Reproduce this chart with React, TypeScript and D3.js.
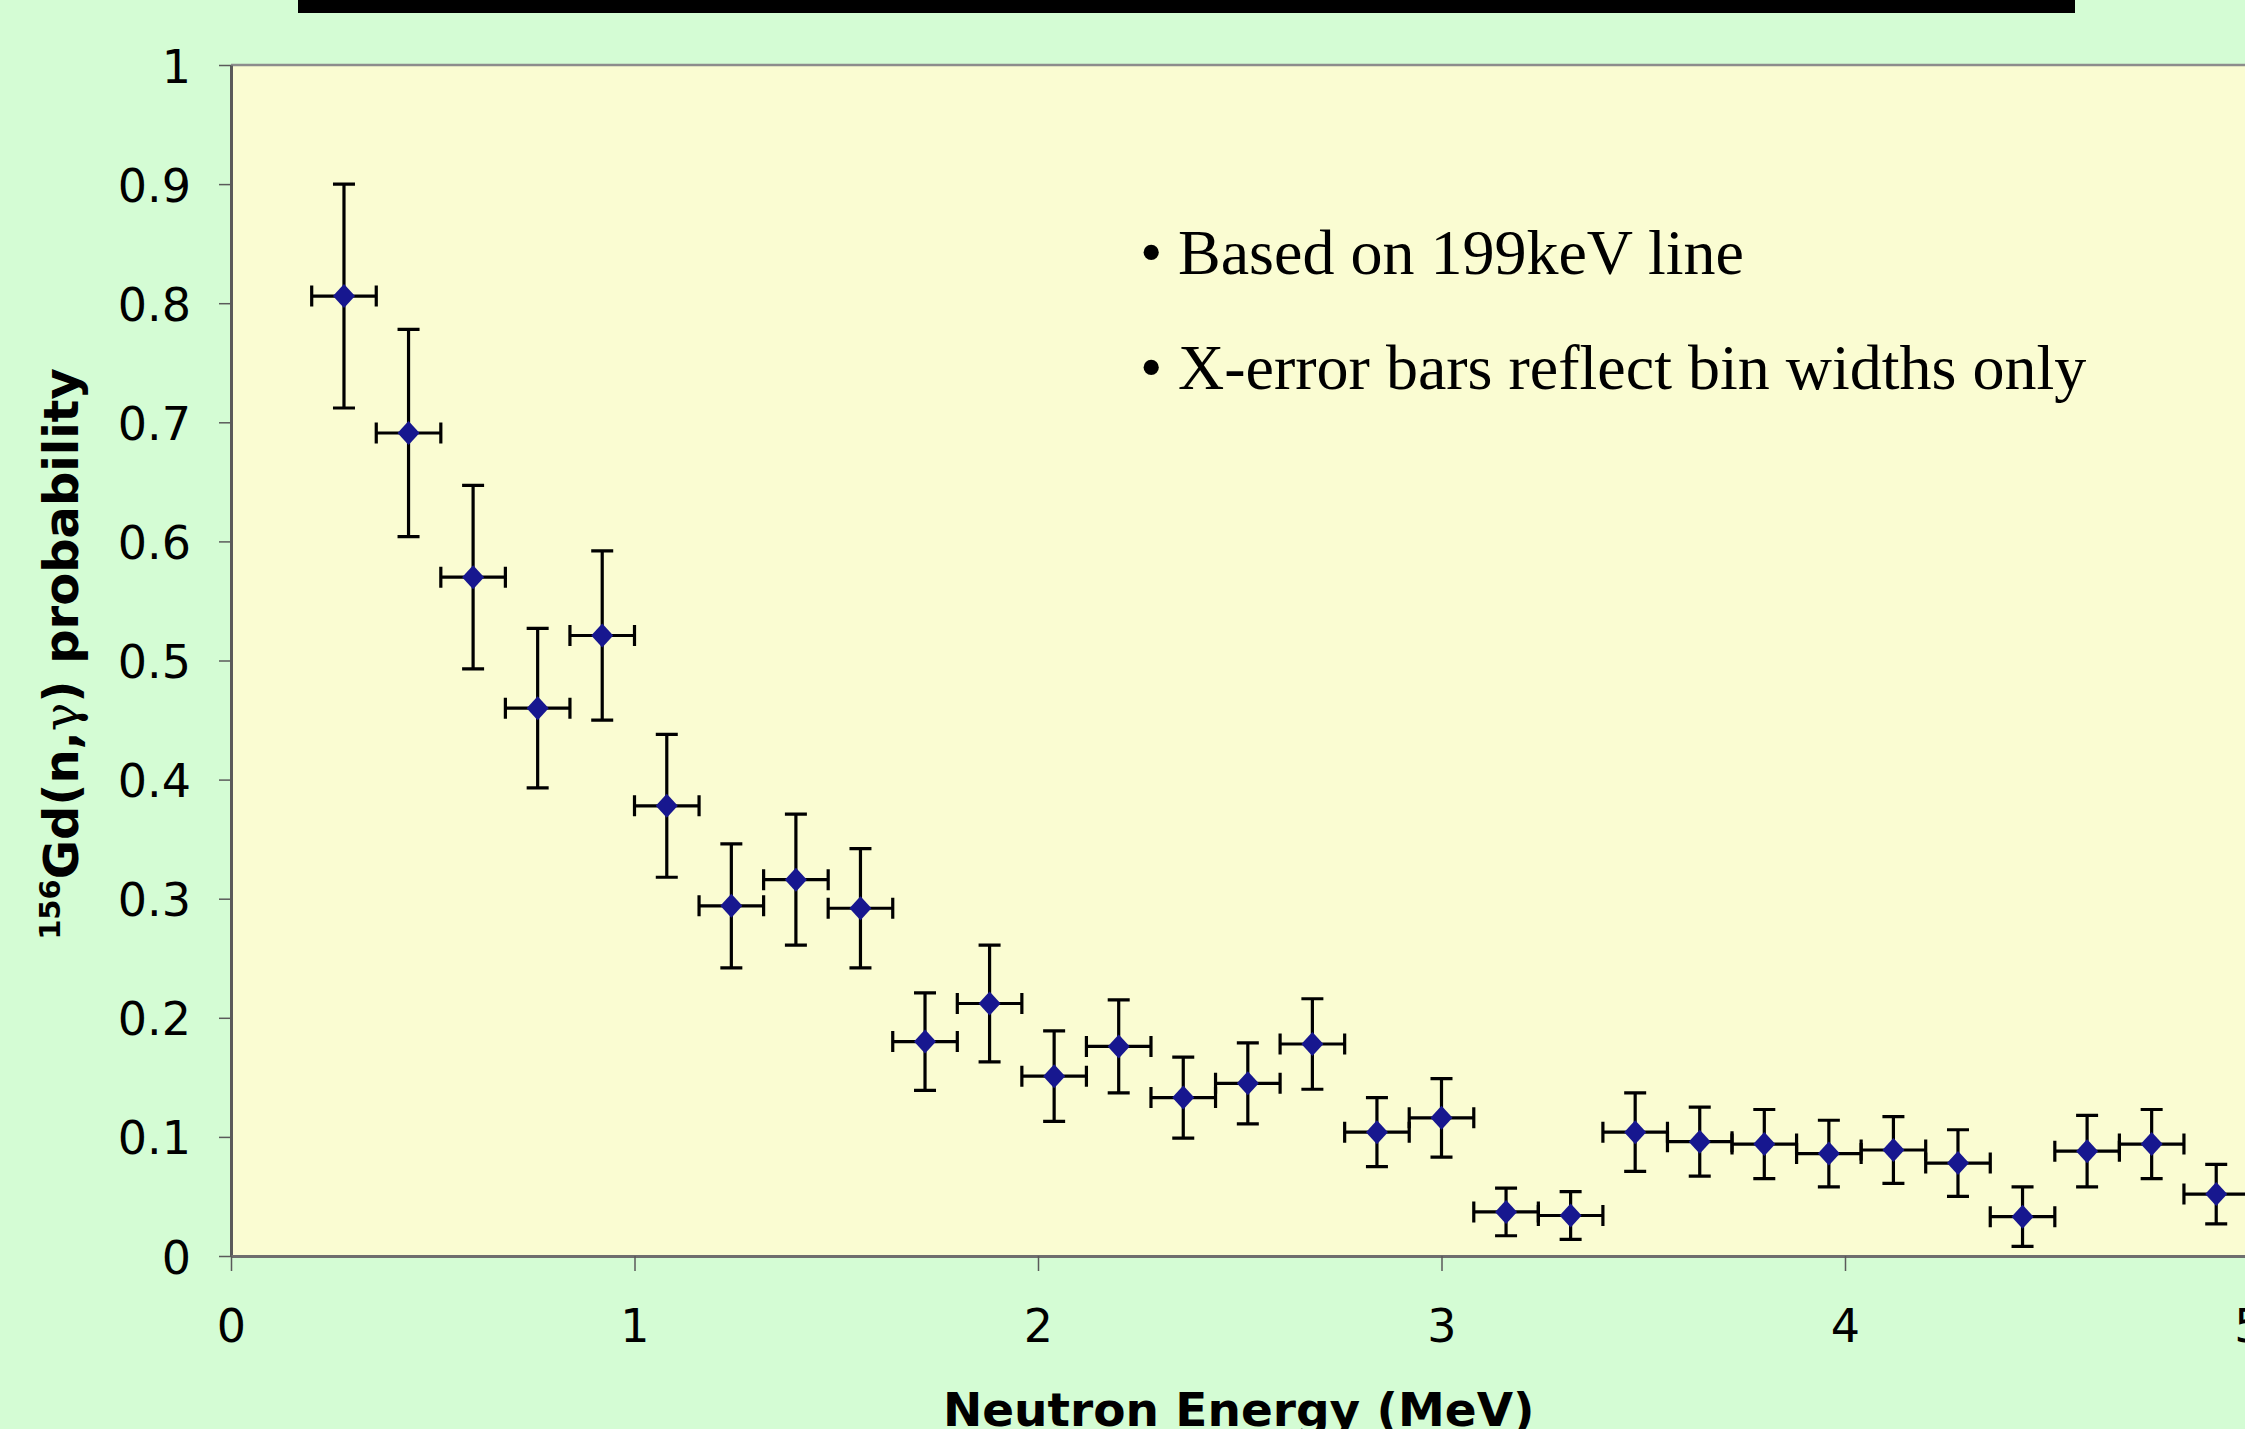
import React, { useEffect, useRef } from 'react';
import * as d3 from 'd3';

// bin centres (MeV)
const energies = [0.28, 0.44, 0.60, 0.76, 0.92, 1.08, 1.24, 1.40, 1.56, 1.72, 1.88, 2.04, 2.20, 2.36, 2.52,
  2.68, 2.84, 3.00, 3.16, 3.32, 3.48, 3.64, 3.80, 3.96, 4.12, 4.28, 4.44, 4.60, 4.76, 4.92];
const probabilities = [0.806, 0.691, 0.570, 0.460, 0.521, 0.378, 0.294, 0.316, 0.292, 0.180, 0.212, 0.151, 0.176, 0.133, 0.145,
  0.178, 0.104, 0.116, 0.037, 0.034, 0.104, 0.096, 0.094, 0.086, 0.089, 0.078, 0.033, 0.088, 0.094, 0.052];
const yErrors = [0.094, 0.087, 0.077, 0.067, 0.071, 0.060, 0.052, 0.055, 0.050, 0.041, 0.049, 0.038, 0.039, 0.034, 0.034,
  0.038, 0.029, 0.033, 0.020, 0.020, 0.033, 0.029, 0.029, 0.028, 0.028, 0.028, 0.025, 0.030, 0.029, 0.025];
const binHalfWidth = 0.08;

const xTicks = [0, 1, 2, 3, 4, 5];
const yTicks = [0, 0.1, 0.2, 0.3, 0.4, 0.5, 0.6, 0.7, 0.8, 0.9, 1];
const yTickLabels = ['0', '0.1', '0.2', '0.3', '0.4', '0.5', '0.6', '0.7', '0.8', '0.9', '1'];
const notes = ['Based on 199keV line', 'X-error bars reflect bin widths only'];

const width = 2245;
const height = 1429;
const plot = { left: 231, top: 65, bottom: 1256, right: 2248.5 };

const App = () => {
  const ref = useRef<SVGSVGElement>(null);

  useEffect(() => {
    const svg = d3.select(ref.current);
    svg.selectAll('*').remove();

    const x = d3.scaleLinear().domain([0, 5]).range([plot.left, plot.right]);
    const y = d3.scaleLinear().domain([0, 1]).range([plot.bottom, plot.top]);

    svg.append('rect').attr('width', width).attr('height', height).attr('fill', '#d4fcd4');
    // black bar left over from the slide title
    svg.append('rect').attr('x', 298).attr('y', 0).attr('width', 1777).attr('height', 13).attr('fill', '#000');

    svg.append('rect')
      .attr('x', plot.left).attr('y', plot.top)
      .attr('width', width - plot.left + 20).attr('height', plot.bottom - plot.top)
      .attr('fill', '#fafcd2');
    svg.append('line')
      .attr('x1', plot.left).attr('x2', width + 10)
      .attr('y1', plot.top).attr('y2', plot.top)
      .attr('stroke', '#8c8c8c').attr('stroke-width', 2.5);

    const yAxis = svg.append('g')
      .attr('transform', `translate(${plot.left},0)`)
      .call(d3.axisLeft(y).tickValues(yTicks).tickSize(12).tickSizeOuter(0).tickPadding(28)
        .tickFormat((d, i) => yTickLabels[i]));
    yAxis.select('.domain').attr('stroke', '#5a5a5a').attr('stroke-width', 3);
    yAxis.selectAll('.tick line').attr('stroke', '#5a5a5a').attr('stroke-width', 1.5);
    yAxis.selectAll('.tick text')
      .attr('dy', '0.37em')
      .attr('fill', '#000')
      .style('font-family', '"DejaVu Sans", Verdana, sans-serif')
      .style('font-size', '46px');

    const xAxis = svg.append('g')
      .attr('transform', `translate(0,${plot.bottom})`)
      .call(d3.axisBottom(x).tickValues(xTicks).tickSize(15).tickSizeOuter(0).tickFormat(d3.format('d')));
    xAxis.select('.domain').attr('stroke', '#6e6e6e').attr('stroke-width', 3);
    xAxis.selectAll('.tick line').attr('stroke', '#5a5a5a').attr('stroke-width', 1.5);
    xAxis.selectAll('.tick text')
      .attr('y', 86)
      .attr('dy', null)
      .attr('fill', '#000')
      .style('font-family', '"DejaVu Sans", Verdana, sans-serif')
      .style('font-size', '46px');

    const points = energies.map((e, i) => ({ e, p: probabilities[i], err: yErrors[i] }));
    const bars = svg.append('g').attr('stroke', '#000').attr('stroke-width', 3.2).attr('fill', 'none');
    const capH = 11;
    const capV = 10.5;

    points.forEach(d => {
      const cx = x(d.e);
      const cy = y(d.p);
      const yTop = y(d.p + d.err);
      const yBot = y(d.p - d.err);
      const xl = x(d.e - binHalfWidth);
      const xr = x(d.e + binHalfWidth);
      const path = d3.path();
      path.moveTo(cx, yTop); path.lineTo(cx, yBot);
      path.moveTo(cx - capH, yTop); path.lineTo(cx + capH, yTop);
      path.moveTo(cx - capH, yBot); path.lineTo(cx + capH, yBot);
      path.moveTo(xl, cy); path.lineTo(xr, cy);
      path.moveTo(xl, cy - capV); path.lineTo(xl, cy + capV);
      path.moveTo(xr, cy - capV); path.lineTo(xr, cy + capV);
      bars.append('path').attr('d', path.toString());
    });

    svg.append('g').selectAll('path')
      .data(points)
      .enter()
      .append('path')
      .attr('d', 'M0,-12L11,0L0,12L-11,0Z')
      .attr('transform', d => `translate(${x(d.e)},${y(d.p)})`)
      .attr('fill', '#17178f');

    const noteGroup = svg.append('g')
      .style('font-family', '"Liberation Serif", "Times New Roman", serif')
      .style('font-size', '64px')
      .attr('fill', '#000');
    notes.forEach((t, i) => {
      noteGroup.append('text').attr('x', 1140).attr('y', 274 + i * 115).text('•');
      noteGroup.append('text').attr('x', 1178).attr('y', 274 + i * 115).text(t);
    });

    svg.append('text')
      .attr('x', (plot.left + plot.right) / 2 - 1)
      .attr('y', 1426)
      .attr('text-anchor', 'middle')
      .style('font-family', '"DejaVu Sans", Verdana, sans-serif')
      .style('font-weight', 'bold')
      .style('font-size', '47px')
      .text('Neutron Energy (MeV)');

    const yLabel = svg.append('text')
      .attr('transform', 'translate(78,654) rotate(-90)')
      .attr('text-anchor', 'middle')
      .style('font-family', '"DejaVu Sans", Verdana, sans-serif')
      .style('font-weight', 'bold')
      .style('font-size', '48px');
    yLabel.append('tspan').attr('dy', -18).style('font-size', '29px').text('156');
    yLabel.append('tspan').attr('dy', 18).text('Gd(n,');
    yLabel.append('tspan').style('font-weight', 'normal').style('font-family', '"DejaVu Serif", serif').text('γ');
    yLabel.append('tspan').text(') probability');
  }, []);

  return (
    <svg
      ref={ref}
      width={width}
      height={height}
      style={{ position: 'absolute', left: 0, top: 0, display: 'block' }}
    />
  );
};

export default App;
